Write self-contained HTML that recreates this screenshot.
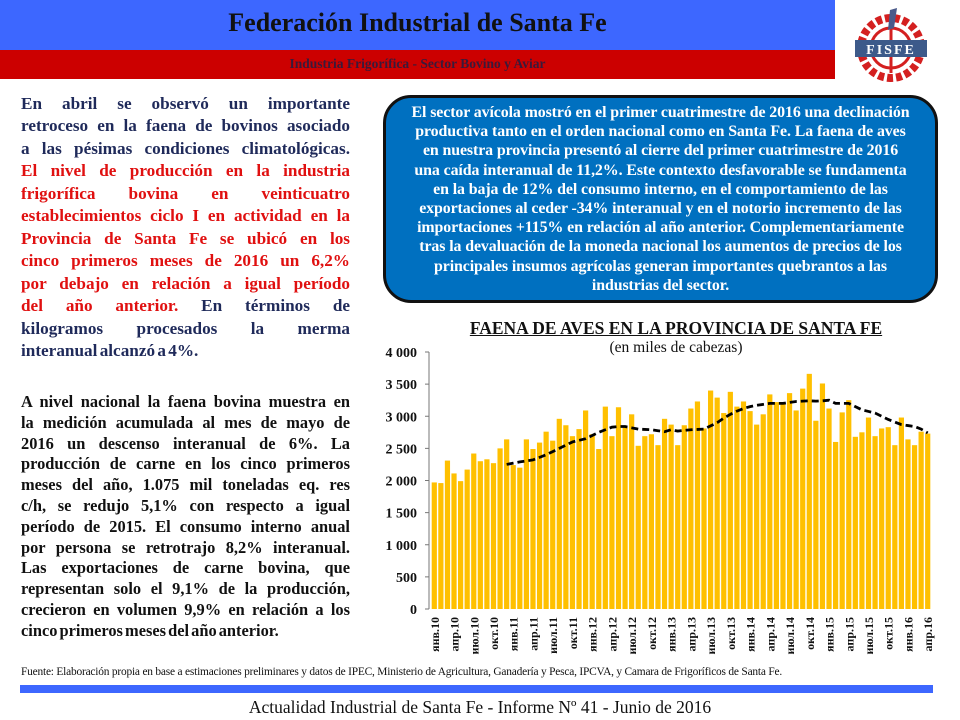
<!DOCTYPE html>
<html><head><meta charset="utf-8">
<style>
*{margin:0;padding:0;box-sizing:border-box}
body{width:960px;height:720px;background:#fff;position:relative;overflow:hidden;font-family:"Liberation Serif",serif}
.abs{position:absolute}
.just{text-align:justify;text-align-last:justify}
.p1 span{display:block;white-space:nowrap}
</style></head><body>
<div class="abs" style="left:0;top:0;width:835px;height:50px;background:#3d67ff"></div>
<div class="abs" style="left:0;top:8px;width:835px;text-align:center;font-size:26px;font-weight:bold;color:#111">Federación Industrial de Santa Fe</div>
<div class="abs" style="left:0;top:50px;width:835px;height:29px;background:#cc0000"></div>
<div class="abs" style="left:0;top:56px;width:835px;text-align:center;font-size:13.5px;font-weight:bold;color:#3a1a3a">Industria Frigorífica - Sector Bovino  y Aviar</div>
<svg class="abs" style="left:850px;top:8px" width="82" height="76" viewBox="0 0 82 76">
<circle cx="41" cy="40" r="30" fill="none" stroke="#d42020" stroke-width="8" stroke-dasharray="6 3"/>
<circle cx="41" cy="40" r="20" fill="none" stroke="#d42020" stroke-width="3"/>
<line x1="41" y1="15" x2="41" y2="65" stroke="#d42020" stroke-width="3"/>
<path d="M40 2 L47 0 L44 20 L38 22 Z" fill="#4a5a8a"/>
<rect x="5" y="32" width="72" height="17" fill="#3d5a8a"/>
<text x="41" y="46" text-anchor="middle" font-size="14" font-weight="bold" fill="#fff" font-family="Liberation Serif,serif" letter-spacing="2">FISFE</text>
</svg>

<div class="abs p1" style="left:21px;top:93px;width:329px;font-size:17.2px;word-spacing:-2px;font-weight:bold;line-height:22.45px;color:#1f2a5a">
<span class="just">En abril se observó un importante</span>
<span class="just">retroceso en la faena de bovinos asociado</span>
<span class="just">a las pésimas condiciones climatológicas.</span>
<span class="just" style="color:#e01010">El nivel de producción en la industria</span>
<span class="just" style="color:#e01010">frigorífica bovina en veinticuatro</span>
<span class="just" style="color:#e01010">establecimientos ciclo I en actividad en la</span>
<span class="just" style="color:#e01010">Provincia de Santa Fe se ubicó en los</span>
<span class="just" style="color:#e01010">cinco primeros meses de 2016 un 6,2%</span>
<span class="just" style="color:#e01010">por debajo en relación a igual período</span>
<span class="just"><b style="color:#e01010">del año anterior.</b> En términos de</span>
<span class="just">kilogramos procesados la merma</span>
<span>interanual alcanzó a 4%.</span>
</div>
<div class="abs p1" style="left:21px;top:392px;width:329px;font-size:16.4px;word-spacing:-2px;font-weight:bold;line-height:20.8px;color:#111">
<span class="just">A nivel nacional la faena bovina muestra en</span>
<span class="just">la medición acumulada al mes de mayo de</span>
<span class="just">2016 un descenso interanual de 6%. La</span>
<span class="just">producción de carne en los cinco primeros</span>
<span class="just">meses del año, 1.075 mil toneladas eq. res</span>
<span class="just">c/h, se redujo 5,1% con respecto a igual</span>
<span class="just">período de 2015. El consumo interno anual</span>
<span class="just">por persona se retrotrajo 8,2% interanual.</span>
<span class="just">Las exportaciones de carne bovina, que</span>
<span class="just">representan solo el 9,1% de la producción,</span>
<span class="just">crecieron en volumen 9,9% en relación a los</span>
<span>cinco primeros meses del año anterior.</span>
</div>

<div class="abs" style="left:383px;top:95px;width:555px;height:208px;background:#0070c0;border:3px solid #111;border-radius:28px;color:#fff;font-weight:bold;font-size:15.9px;line-height:19.2px;text-align:center;padding-top:5px;white-space:nowrap;letter-spacing:-0.1px">
El sector avícola mostró en el primer cuatrimestre de 2016 una declinación<br>productiva tanto en el orden nacional como en Santa Fe. La faena de aves<br>en nuestra provincia presentó al cierre del primer cuatrimestre de 2016<br>una caída interanual de 11,2%. Este contexto desfavorable se fundamenta<br>en la baja de 12% del consumo interno, en el comportamiento de las<br>exportaciones al ceder -34% interanual y en el notorio incremento de las<br>importaciones +115% en relación al año anterior. Complementariamente<br>tras la devaluación de la moneda nacional los aumentos de precios de los<br>principales insumos agrícolas generan importantes quebrantos a las<br>industrias del sector.
</div>

<div class="abs" style="left:416px;top:318px;width:520px;text-align:center;font-size:17.5px;font-weight:bold;text-decoration:underline;color:#111;white-space:nowrap">FAENA DE AVES EN LA PROVINCIA DE SANTA FE</div>
<div class="abs" style="left:416px;top:339px;width:520px;text-align:center;font-size:15.5px;color:#111">(en miles de cabezas)</div>

<svg class="abs" id="chart" style="left:0;top:0" width="960" height="720"></svg>

<div class="abs" style="left:21px;top:666px;font-size:11.4px;color:#111;white-space:nowrap;letter-spacing:-0.2px">Fuente: Elaboración propia en base a estimaciones preliminares y datos de IPEC, Ministerio de Agricultura, Ganadería y Pesca, IPCVA, y Camara de Frigoríficos de Santa Fe.</div>
<div class="abs" style="left:20px;top:685px;width:913px;height:8px;background:#3d67ff"></div>
<div class="abs" style="left:0;top:697px;width:960px;text-align:center;font-size:17.5px;color:#111">Actualidad Industrial de Santa Fe - Informe Nº 41 - Junio de 2016</div>

<script>
const monthNames = ["янв","апр","июл","окт"];
const years = ["10","11","12","13","14","15","16"];
const values = [1970,1960,2310,2110,1990,2170,2420,2300,2330,2270,2500,2640,
2240,2200,2640,2490,2590,2760,2620,2960,2860,2690,2800,3090,
2720,2490,3150,2690,3140,2840,3030,2540,2690,2720,2550,2960,
2870,2550,2860,3120,3230,2810,3400,3290,3050,3380,3150,3230,
3080,2870,3030,3340,3220,3190,3360,3090,3430,3660,2930,3510,
3120,2600,3060,3250,2680,2750,2980,2690,2810,2830,2550,2980,
2640,2550,2760,2730];
const trend = [null,null,null,null,null,null,null,null,null,null,null,
2250,2270,2290,2305,2320,2360,2400,2450,2500,2550,2600,2625,2650,2700,2750,2790,2830,2840,2840,2820,
2800,2795,2790,2775,2760,2790,2770,2780,2790,2795,2800,2850,2900,2970,3030,3080,3120,3150,3170,3185,
3200,3200,3200,3215,3230,3235,3240,3235,3240,3250,3200,3200,3200,3150,3100,3075,3050,3000,2950,2910,
2870,2855,2840,2800,2740];
const yTicks = [0,500,1000,1500,2000,2500,3000,3500,4000];
const yTickLabels = ["0","500","1 000","1 500","2 000","2 500","3 000","3 500","4 000"];

const NS="http://www.w3.org/2000/svg";
const svg=document.getElementById('chart');
const X0=431, X1=931, Y0=609, Y1=352, YMAX=4000;
const band=(X1-X0)/values.length;
const xc=i=>X0+band*(i+0.5);
const y=v=>Y0-(v/YMAX)*(Y0-Y1);
function mk(tag,attrs){const e=document.createElementNS(NS,tag);for(const k in attrs)e.setAttribute(k,attrs[k]);svg.appendChild(e);return e;}

yTicks.forEach((t,i)=>{
  const tk=mk('line',{x1:X0-6,x2:X0-2,y1:y(t),y2:y(t),stroke:'#777'});
  
  
  const tx=mk('text',{x:417,y:y(t)+5,'text-anchor':'end','font-size':'14','font-weight':'bold','font-family':'Liberation Serif,serif',fill:'#111'});
  tx.textContent=yTickLabels[i];
  
  
});
const ax=mk('line',{x1:X0-2,x2:X0-2,y1:Y1,y2:Y0,stroke:'#777'});



values.forEach((v,i)=>{
  const r=mk('rect',{x:xc(i)-2.6,y:y(v),width:5.2,height:Y0-y(v),fill:'#ffc000'});
  
  
  if(i%3===0){
    const lbl=monthNames[(i/3)%4]+'.'+years[Math.floor(i/12)];
    const t=mk('text',{x:0,y:0,'text-anchor':'end','font-size':'12','font-weight':'bold','font-family':'Liberation Serif,serif',fill:'#111',transform:'translate('+(xc(i)+4.5)+','+(Y0+8)+') rotate(-90)'});
    t.textContent=lbl;
    
    
  }
});
let d='';
trend.forEach((v,i)=>{if(v==null)return;d+=(d?'L':'M')+xc(i)+' '+y(v)+' ';});
const tl=mk('path',{d:d,fill:'none',stroke:'#000','stroke-width':'2.8','stroke-dasharray':'7 4'});


</script>
</body></html>
